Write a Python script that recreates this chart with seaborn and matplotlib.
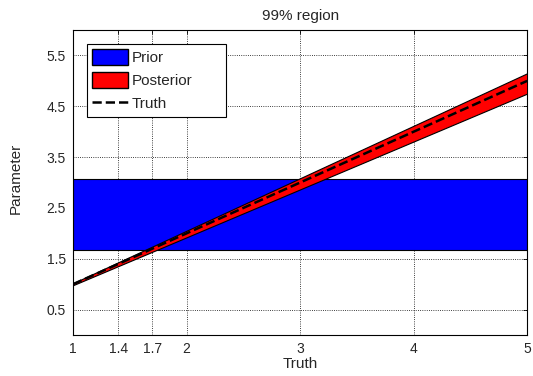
import numpy as np
import pandas as pd
import matplotlib
matplotlib.use('Agg')
import matplotlib.pyplot as plt
import seaborn as sns
from matplotlib.patches import Patch
from matplotlib.lines import Line2D

# Values
truth = [1.0, 5.0]
post_lower = [0.98, 4.75]
post_upper = [1.02, 5.15]
prior_lower = 1.68
prior_upper = 3.07
xticks = [1, 1.4, 1.7, 2, 3, 4, 5]
xticklabels = ['1', '1.4', '1.7', '2', '3', '4', '5']
yticks = [0.5, 1.5, 2.5, 3.5, 4.5, 5.5]

sns.set_style('white')
plt.rcParams['font.family'] = ['Liberation Sans', 'DejaVu Sans']

fig = plt.figure(figsize=(5.33, 3.76), dpi=100)
ax = fig.add_axes([0.137, 0.109, 0.852, 0.811])

# Prior band
ax.fill_between([truth[0], truth[-1]], prior_lower, prior_upper,
                facecolor='#0000ff', edgecolor='black', linewidth=0.8, zorder=2)
# Posterior band
ax.fill_between(truth, post_lower, post_upper,
                facecolor='#ff0000', edgecolor='black', linewidth=0.8, zorder=3)
# Truth line
df = pd.DataFrame({'x': truth, 'y': truth})
sns.lineplot(data=df, x='x', y='y', ax=ax, color='black', linestyle='--',
             linewidth=1.8, zorder=4)

ax.set_xlim(1, 5)
ax.set_ylim(0, 6)
ax.set_xticks(xticks)
ax.set_xticklabels(xticklabels)
ax.set_yticks(yticks)
ax.grid(True, color='black', linestyle=':', linewidth=0.6, zorder=1)
ax.set_axisbelow(True)
ax.tick_params(direction='in', top=True, right=True, length=3, width=0.6,
               labelsize=10, color='black', pad=5)
for s in ax.spines.values():
    s.set_color('black')
    s.set_linewidth(0.8)

ax.set_title('99% region', fontsize=11, pad=7)
ax.set_xlabel('Truth', fontsize=11, labelpad=1)
ax.set_ylabel('Parameter', fontsize=11)
ax.yaxis.set_label_coords(-0.11, 0.515)

handles = [Patch(facecolor='#0000ff', edgecolor='black', label='Prior'),
           Patch(facecolor='#ff0000', edgecolor='black', label='Posterior'),
           Line2D([0], [0], color='black', linestyle='--', linewidth=1.8, label='Truth')]
leg = ax.legend(handles=handles, loc='upper left',
                bbox_to_anchor=(0.031, 0.5, 0.306, 0.454), mode='expand',
                borderaxespad=0, fontsize=11, frameon=True, fancybox=False,
                edgecolor='black', framealpha=1, handlelength=2.35,
                handleheight=1.2, borderpad=0.35, labelspacing=0.45,
                handletextpad=0.2)
leg.get_frame().set_linewidth(0.8)

fig.savefig('out.png', dpi=100)
